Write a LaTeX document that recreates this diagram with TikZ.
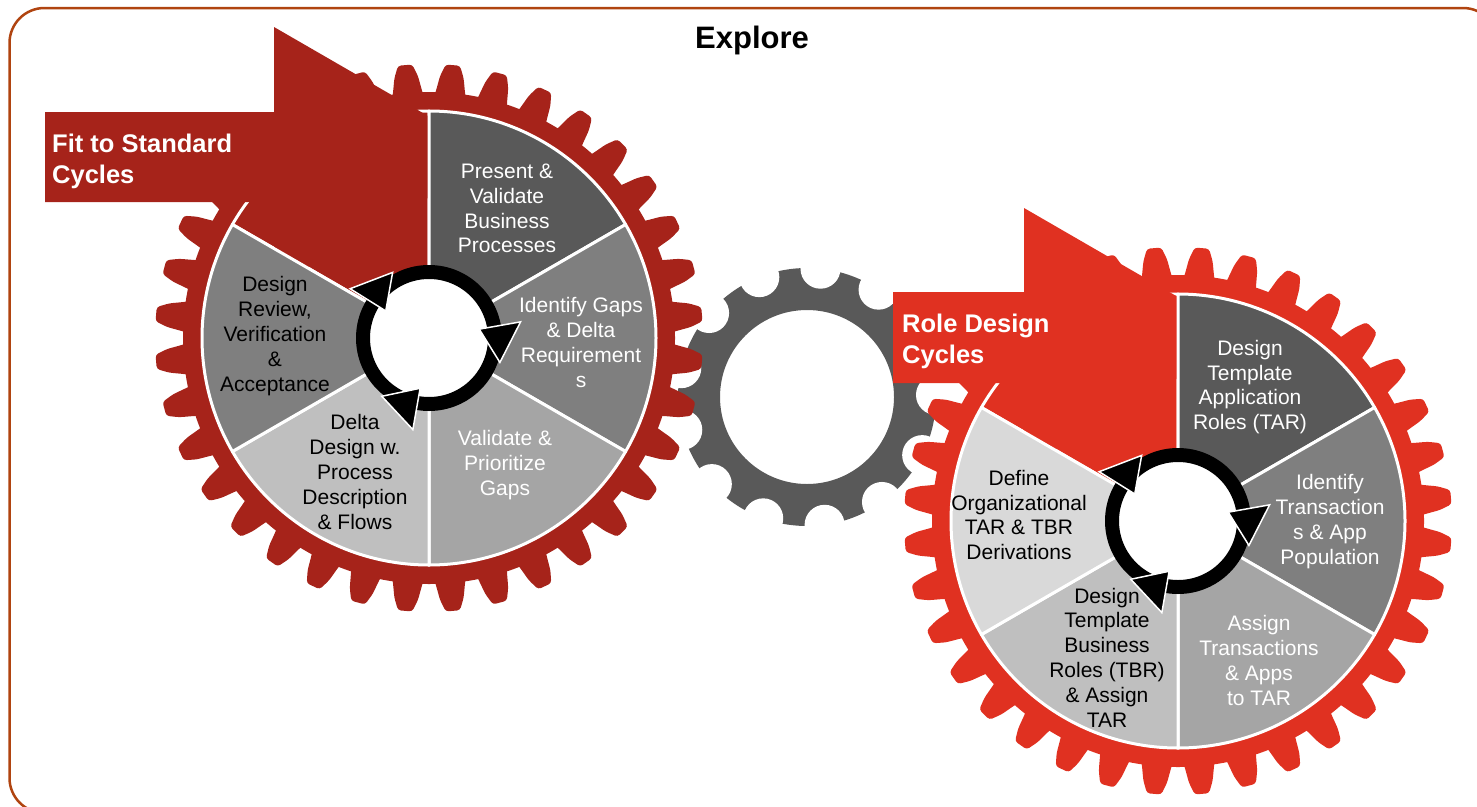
\documentclass[tikz,border=0pt]{standalone}
\usepackage{fontspec}
\setmainfont{Liberation Sans}
\definecolor{gearA}{RGB}{166,35,26}
\definecolor{gearB}{RGB}{224,49,33}
\definecolor{frameC}{RGB}{176,68,16}
\definecolor{gA}{HTML}{595959}
\definecolor{gB}{HTML}{7F7F7F}
\definecolor{gC}{HTML}{A5A5A5}
\definecolor{gD}{HTML}{BFBFBF}
\definecolor{gE}{HTML}{D9D9D9}
\tikzset{
  seg/.style={draw=white, line width=3pt, line join=round},
  lbl/.style={align=center, inner sep=0pt, font=\fontsize{21}{24.8}\selectfont},
  hdr/.style={align=left, inner sep=0pt, text=white, font=\bfseries\fontsize{25.5}{31}\selectfont},
  ringhead/.style={fill=black, draw=white, line width=1.5pt, line join=miter},
}
\newcommand{\mygearbody}[1]{%
  \fill[#1] (0,0) circle[radius=246];
  \foreach \a in {5,15,...,355}{
    \fill[#1, rounded corners=3pt] (\a-4.2:236) -- (\a-3.4:247) -- (\a-2.6:262) -- (\a-1.5:274) -- (\a+1.5:274) -- (\a+2.6:262) -- (\a+3.4:247) -- (\a+4.2:236) -- cycle;
  }}
\newcommand{\mysector}[3]{%
  \path[seg, fill=#1] (0,0) -- (#2:227) arc[start angle=#2, end angle=#3, radius=227] -- cycle;}
\newcommand{\mycycle}{%
  \fill[white] (0,0) circle[radius=60];
  \draw[black, line width=14pt] (0,0) circle[radius=66];
  \foreach \t in {148,10,260}{
    \path[ringhead] (\t:93) -- (\t-29:75) -- (\t:51) -- cycle;
  }}
\begin{document}
\begin{tikzpicture}[x=1pt, y=-1pt]
\useasboundingbox (0,0) rectangle (1477,806);
% frame
\draw[frameC, line width=2.5pt, rounded corners=35pt] (9.5,8) rectangle (1498,813);
% middle grey gear
\begin{scope}[shift={(807,397)}, yscale=-1]
  \fill[gA, even odd rule] (0,0) circle[radius=129] (0,0) circle[radius=87];
  \foreach \k in {0,...,12}{
    \fill[white] ({84+\k*360/13}:129) circle[radius=20];
  }
\end{scope}
% left gear
\begin{scope}[shift={(429,338)}, yscale=-1]
  \mygearbody{gearA}
  \mysector{gearA}{90}{150}
\end{scope}
\fill[gearA] (45,112) -- (274,112) -- (274,27) -- (499,157) -- (274,287) -- (274,202) -- (45,202) -- cycle;
\begin{scope}[shift={(429,338)}, yscale=-1]
  \mysector{gA}{30}{90}
  \mysector{gB}{-30}{30}
  \mysector{gC}{-90}{-30}
  \mysector{gD}{210}{270}
  \mysector{gB}{150}{210}
  \mycycle
\end{scope}
% right gear
\begin{scope}[shift={(1178,521)}, yscale=-1]
  \mygearbody{gearB}
  \mysector{gearB}{90}{150}
\end{scope}
\fill[gearB] (893,292) -- (1024,292) -- (1024,208) -- (1248,337.5) -- (1024,467) -- (1024,383) -- (893,383) -- cycle;
\begin{scope}[shift={(1178,521)}, yscale=-1]
  \mysector{gA}{30}{90}
  \mysector{gB}{-30}{30}
  \mysector{gC}{-90}{-30}
  \mysector{gD}{210}{270}
  \mysector{gE}{150}{210}
  \mycycle
\end{scope}
% title
\node[inner sep=0pt, font=\bfseries\fontsize{31}{36}\selectfont] (title) at (752,40) {Explore};
% headers
\node[hdr, anchor=west] (fit) at (52,161) {Fit to Standard\\Cycles};
\node[hdr, anchor=west] (role) at (902,341) {Role Design\\Cycles};
% left labels
\node[lbl, text=white] (l1) at (507,208.5) {Present \&\\Validate\\Business\\Processes};
\node[lbl, text=white] (l2) at (581,342.5) {Identify Gaps\\\& Delta\\Requirement\\s};
\node[lbl, text=white] (l3) at (505,465) {Validate \&\\Prioritize\\Gaps};
\node[lbl] (l4) at (355,472) {Delta\\Design w.\\Process\\Description\\\& Flows};
\node[lbl] (l5) at (275,336) {Design\\Review,\\Verification\\\&\\Acceptance};
% right labels
\node[lbl, text=white] (r1) at (1250,387) {Design\\Template\\Application\\Roles (TAR)};
\node[lbl, text=white] (r2) at (1330,521.5) {Identify\\Transaction\\s \& App\\Population};
\node[lbl, text=white] (r3) at (1259,660.5) {Assign\\Transactions\\\& Apps\\to TAR};
\node[lbl] (r4) at (1107,657.5) {Design\\Template\\Business\\Roles (TBR)\\\& Assign\\TAR};
\node[lbl] (r5) at (1019,515) {Define\\Organizational\\TAR \& TBR\\Derivations};
\end{tikzpicture}
\end{document}
